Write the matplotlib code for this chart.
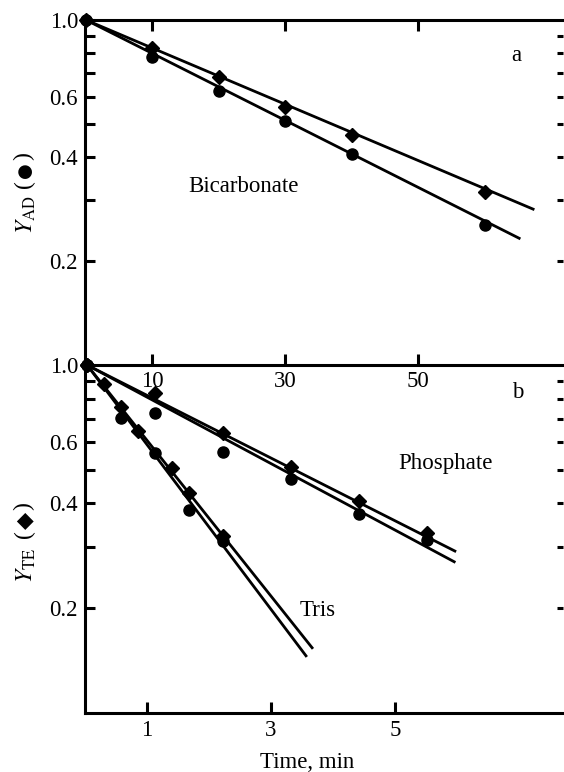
import numpy as np
import matplotlib.pyplot as plt

# Plotting style
plt.rcParams['font.family'] = ['Liberation Serif', 'DejaVu Sans']
plt.rcParams['mathtext.fontset'] = 'stix'
plt.rcParams['font.size'] = 16

# ---- data ----
# panel a: bicarbonate (upper time scale)
bic_t = [0, 10, 20, 30, 40, 60]
bic_te = [1.0, 0.83, 0.685, 0.561, 0.465, 0.317]
bic_ad = [1.0, 0.782, 0.624, 0.508, 0.41, 0.254]
bic_fit_te_t = [0, 67.3]
bic_fit_te = [1.0, 0.283]
bic_fit_ad_t = [0, 65.2]
bic_fit_ad = [1.0, 0.233]

# panel b: phosphate (upper time scale)
pho_t = [0, 10, 20, 30, 40, 50]
pho_te = [1.0, 0.829, 0.639, 0.509, 0.406, 0.33]
pho_ad = [1.0, 0.73, 0.563, 0.47, 0.372, 0.315]
pho_fit_te_t = [0, 54.1]
pho_fit_te = [1.0, 0.292]
pho_fit_ad_t = [0, 54.0]
pho_fit_ad = [1.0, 0.272]

# panel b: tris (upper time scale)
tris_te_t = [0, 2.5, 5, 7.5, 12.5, 15, 20]
tris_te = [1.0, 0.881, 0.755, 0.648, 0.506, 0.428, 0.323]
tris_ad_t = [0, 5, 10, 15, 20]
tris_ad = [1.0, 0.702, 0.559, 0.384, 0.312]
tris_fit_te_t = [0, 33.1]
tris_fit_te = [1.0, 0.154]
tris_fit_ad_t = [0, 32.2]
tris_fit_ad = [1.0, 0.146]

top_ticks = [10, 30, 50]
min_ticks = [1, 3, 5]
y_major = [1.0, 0.6, 0.4, 0.2]
y_minor = [0.9, 0.8, 0.7, 0.5, 0.3]
y_right = [0.9, 0.8, 0.7, 0.6, 0.5, 0.4, 0.3, 0.2]

W, H = 564, 772
fig = plt.figure(figsize=(W / 100, H / 100), dpi=100)

left = 85 / W
width = 478 / W
rect_a = [left, 1 - 365 / H, width, 345 / H]
rect_b = [left, 1 - 713 / H, width, 348 / H]

lw = 2.0
spw = 2.2
fs = 16.5


def fpos(x, y):
    # pixel position -> figure fraction
    return x / W, 1 - y / H


def ylabel_parts(x, y, math, sym, symsize):
    # math part, then "(sym)" above it, all rotated
    fig.text(*fpos(x + 2, y + 45), math, rotation=90, fontsize=17,
             ha='center', va='center')
    fig.text(*fpos(x, y + 14), '(', rotation=90, fontsize=17,
             ha='center', va='center')
    fig.text(*fpos(x + 1, y), sym, rotation=90, fontsize=symsize,
             family='DejaVu Sans', ha='center', va='center')
    fig.text(*fpos(x, y - 14), ')', rotation=90, fontsize=17,
             ha='center', va='center')


def style_y(ax):
    ax.set_yscale('log')
    ax.set_ylim(0.1, 1.0)
    ax.set_yticks(y_major)
    ax.set_yticklabels(['%.1f' % v for v in y_major])
    ax.set_yticks(y_minor, minor=True)
    ax.yaxis.set_minor_formatter(plt.NullFormatter())
    ax.tick_params(axis='y', which='both', direction='in', length=7, width=2.2,
                   pad=5, labelsize=fs)
    ax.spines['left'].set_linewidth(spw)
    ax.spines['right'].set_visible(False)
    # short marks along the right edge
    axr = ax.twinx()
    axr.set_yscale('log')
    axr.set_ylim(0.1, 1.0)
    axr.set_yticks(y_right)
    axr.yaxis.set_minor_locator(plt.NullLocator())
    axr.set_yticklabels([])
    axr.tick_params(axis='y', direction='in', length=4, width=2.2)
    for s in axr.spines.values():
        s.set_visible(False)
    axr.patch.set_alpha(0)


# ---- panel a ----
axa = fig.add_axes(rect_a)
axa.patch.set_alpha(0)
style_y(axa)
axa.set_xlim(-0.15, 71.8)
axa.set_xticks(top_ticks)
axa.tick_params(axis='x', direction='in', length=8, width=2.2, top=True,
                bottom=True, labelbottom=True, pad=4, labelsize=fs)
for s in ['top', 'bottom']:
    axa.spines[s].set_linewidth(spw)

axa.plot(bic_fit_te_t, bic_fit_te, color='black', lw=lw)
axa.plot(bic_fit_ad_t, bic_fit_ad, color='black', lw=lw)
axa.plot(bic_t, bic_te, 'D', color='black', ms=7, clip_on=False)
axa.plot(bic_t, bic_ad, 'o', color='black', ms=8, clip_on=False)
axa.text((188 - 85) / 478, (365 - 186) / 345, 'Bicarbonate', transform=axa.transAxes,
         fontsize=fs, va='center', ha='left')
axa.text((516 - 85) / 478, (365 - 55) / 345, 'a', transform=axa.transAxes,
         fontsize=fs, va='center', ha='center')

ylabel_parts(24, 170, r'$Y_{\mathrm{AD}}$', '●', 13)

# ---- panel b ----
axb = fig.add_axes(rect_b)
axb.patch.set_alpha(0)
style_y(axb)
axb.set_xlim(0, 7.71)
axb.set_xticks(min_ticks)
axb.tick_params(axis='x', direction='in', length=8, width=2.2, top=False,
                pad=5, labelsize=fs)
axb.spines['top'].set_visible(False)
axb.spines['bottom'].set_linewidth(spw)
axb.set_xlabel('Time, min', fontsize=16.5)
axb.xaxis.set_label_coords((307 - 85) / 478, -0.112)

ylabel_parts(24, 520, r'$Y_{\mathrm{TE}}$', '◆', 16)

# data of panel b sit on the upper (10-30-50) scale
axu = fig.add_axes(rect_b, frameon=False)
axu.axis('off')
axu.set_yscale('log')
axu.set_ylim(0.1, 1.0)
axu.set_xlim(-0.3, 70.0)

axu.plot(pho_fit_te_t, pho_fit_te, color='black', lw=lw)
axu.plot(pho_fit_ad_t, pho_fit_ad, color='black', lw=lw)
axu.plot(tris_fit_te_t, tris_fit_te, color='black', lw=lw)
axu.plot(tris_fit_ad_t, tris_fit_ad, color='black', lw=lw)
axu.plot(pho_t, pho_te, 'D', color='black', ms=7, clip_on=False)
axu.plot(pho_t, pho_ad, 'o', color='black', ms=8, clip_on=False)
axu.plot(tris_te_t, tris_te, 'D', color='black', ms=7, clip_on=False)
axu.plot(tris_ad_t, tris_ad, 'o', color='black', ms=8, clip_on=False)

axb.text((398 - 85) / 478, (713 - 463) / 348, 'Phosphate', transform=axb.transAxes,
         fontsize=fs, va='center', ha='left')
axb.text((300 - 85) / 478, (713 - 610) / 348, 'Tris', transform=axb.transAxes,
         fontsize=fs, va='center', ha='left')
axb.text((518 - 85) / 478, (713 - 393) / 348, 'b', transform=axb.transAxes,
         fontsize=fs, va='center', ha='center')

plt.savefig('out.png', dpi=100)
